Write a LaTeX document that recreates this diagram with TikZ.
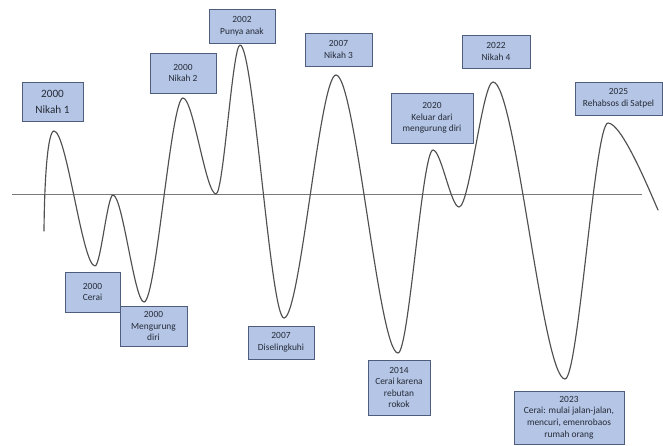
\documentclass[tikz,border=0pt]{standalone}
\usepackage{fontspec}
\setmainfont{Carlito}
\usetikzlibrary{calc}
\definecolor{boxfill}{HTML}{B4C5E6}
\definecolor{boxline}{HTML}{4E5D7C}
\definecolor{ink}{HTML}{262B36}
\definecolor{wavecol}{HTML}{505050}
\definecolor{axiscol}{HTML}{7A7A7A}
\tikzset{
  event/.style={draw=boxline, fill=boxfill, line width=0.9pt, inner sep=0pt,
    align=center, text=ink, font=\fontsize{9.4}{11.6}\selectfont},
  bigevent/.style={event, font=\fontsize{11.2}{16}\selectfont},
  sz/.style 2 args={minimum width=#1pt, minimum height=#2pt},
  wave/.style={draw=wavecol, line width=1.15pt, line join=round, line cap=round},
  axisline/.style={draw=axiscol, line width=1pt},
}
\begin{document}
\begin{tikzpicture}[x=1pt,y=-1pt]
\useasboundingbox (0,0) rectangle (663,445);

% time axis
\coordinate (ax0) at (12,194);
\coordinate (ax1) at (642,194);
\draw[axisline] (ax0) -- (ax1);

% turning points of the life curve
\coordinate (s)   at (44,231);
\coordinate (p1)  at (54,131);
\coordinate (p2)  at (95,266);
\coordinate (p3)  at (113,195);
\coordinate (p4)  at (144,302);
\coordinate (p5)  at (183,98);
\coordinate (p6)  at (216,194);
\coordinate (p7)  at (240,45);
\coordinate (p8)  at (284,318);
\coordinate (p9)  at (336,75);
\coordinate (p10) at (398,353);
\coordinate (p11) at (433,150);
\coordinate (p12) at (459,207);
\coordinate (p13) at (493,82);
\coordinate (p14) at (565,379);
\coordinate (p15) at (608,123);
\coordinate (e)   at (658,210);

% half-wave Bezier segments with level tangents at every extremum
\draw[wave] (s) .. controls (44.5,175) and (48,131) .. (p1)
  \foreach \i [remember=\i as \j (initially 1)] in {2,...,15} {
    .. controls ($(p\j)!0.31!(p\j -| p\i)$) and ($(p\i)!0.31!(p\i -| p\j)$) .. (p\i)
  }
  .. controls (622,123) and (650,192) .. (e);

% events
\node[bigevent, sz={61}{39}] (n1) at (52.5,101.5) {2000\\Nikah 1};
\node[event, sz={66}{40}] (n2) at (183,73) {2000\\Nikah 2};
\node[event, sz={66}{34}] (anak) at (242,26) {2002\\Punya anak};
\node[event, sz={67}{33}] (n3) at (338.5,49.5) {2007\\Nikah 3};
\node[event, sz={68}{33}] (n4) at (496,51.5) {2022\\Nikah 4};
\node[event, sz={82}{50}] (keluar) at (432,118) {2020\\Keluar dari\\mengurung diri};
\node[event, sz={87}{33}] (rehab) at (618.5,98.5) {2025\\Rehabsos di Satpel};
\node[event, sz={55}{40}] (cerai) at (92.5,292) {2000\\Cerai};
\node[event, sz={67}{40}] (kurung) at (153.5,326) {2000\\Mengurung\\diri};
\node[event, sz={66}{33}] (selingkuh) at (281,342.5) {2007\\Diselingkuhi};
\node[event, sz={62}{55}] (rokok) at (399,387.5) {2014\\Cerai karena\\rebutan\\rokok};
\node[event, sz={110}{53}] (jalan) at (569,417.5) {2023\\Cerai: mulai jalan-jalan,\\mencuri, emenrobaos\\rumah orang};
\end{tikzpicture}
\end{document}
